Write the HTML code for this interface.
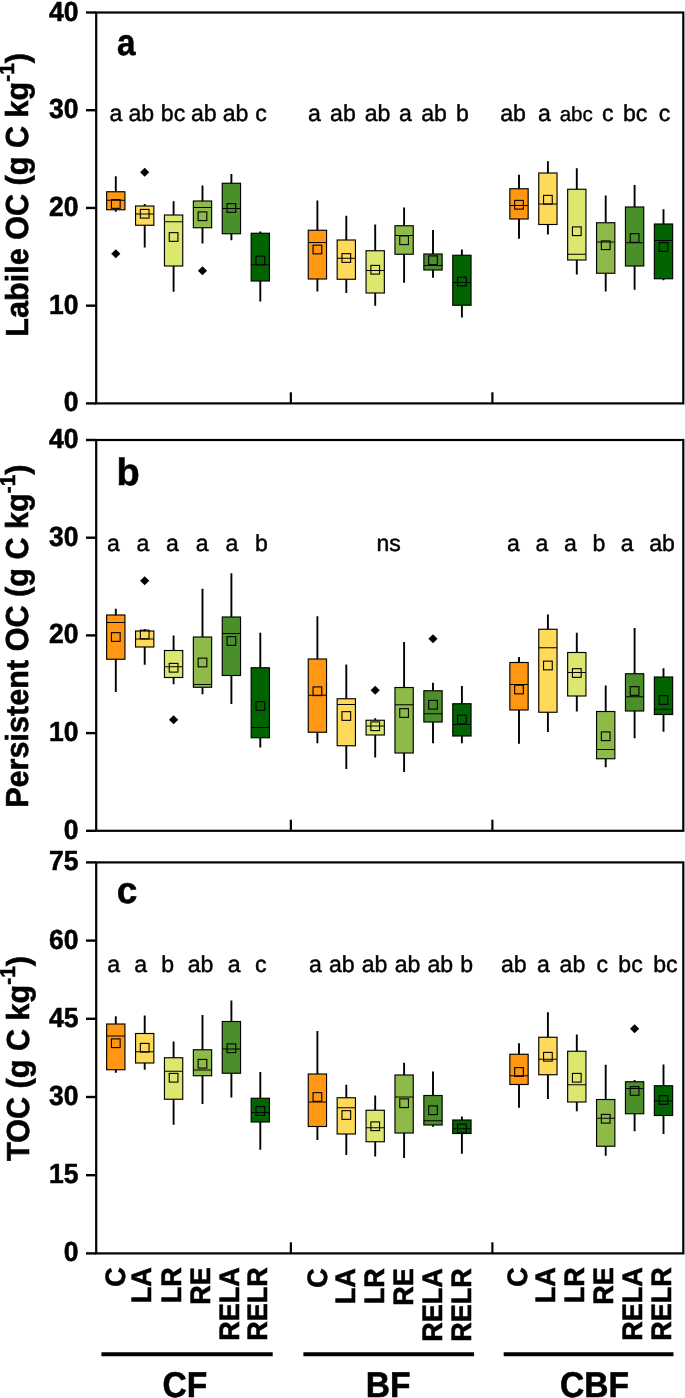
<!DOCTYPE html>
<html><head><meta charset="utf-8"><title>Box plots</title>
<style>
html,body{margin:0;padding:0;background:#fff}
svg{display:block}
text{font-family:"Liberation Sans",sans-serif;fill:#000}
.tk{font-size:26.5px;font-weight:bold}
.pl{font-weight:bold}
.sg{font-size:23.1px;stroke:#000;stroke-width:0.45px}
.sg2{font-size:20.5px;stroke:#000;stroke-width:0.4px}
svg text{text-rendering:geometricPrecision}
.yt{font-size:30.6px;font-weight:bold}
.xl{font-size:27px;font-weight:bold}
.gl{font-size:33.6px;font-weight:bold}
.tk,.yt,.xl,.gl,.pl{stroke:#000;stroke-width:0.55px}
</style></head><body>
<svg width="685" height="1398" viewBox="0 0 685 1398">
<rect width="685" height="1398" fill="#fff"/>
<g style="opacity:0.999">
<g stroke="#000" fill="none">
<path d="M115.80 176.25V191.75M115.80 209.75V211.75" stroke-width="1.9"/>
<rect x="106.65" y="191.75" width="18.3" height="18.00" fill="#FF9712" stroke-width="1.15"/>
<path d="M106.65 200.25H124.95" stroke-width="1"/>
<rect x="111.45" y="199.65" width="8.7" height="8.7" stroke-width="1.1"/>
<path d="M115.80 249.25L120.40 253.75L115.80 258.25L111.20 253.75Z" fill="#000" stroke="none"/>
<path d="M144.70 204.00V206.00M144.70 225.25V247.50" stroke-width="1.9"/>
<rect x="135.55" y="206.00" width="18.3" height="19.25" fill="#FFDA5A" stroke-width="1.15"/>
<path d="M135.55 214.00H153.85" stroke-width="1"/>
<rect x="140.35" y="209.40" width="8.7" height="8.7" stroke-width="1.1"/>
<path d="M144.70 167.75L149.30 172.25L144.70 176.75L140.10 172.25Z" fill="#000" stroke="none"/>
<path d="M173.60 201.25V215.00M173.60 266.00V291.75" stroke-width="1.9"/>
<rect x="164.45" y="215.00" width="18.3" height="51.00" fill="#DCE770" stroke-width="1.15"/>
<path d="M164.45 221.75H182.75" stroke-width="1"/>
<rect x="169.25" y="232.65" width="8.7" height="8.7" stroke-width="1.1"/>
<path d="M202.50 185.50V201.00M202.50 227.75V243.50" stroke-width="1.9"/>
<rect x="193.35" y="201.00" width="18.3" height="26.75" fill="#8DBA49" stroke-width="1.15"/>
<path d="M193.35 207.50H211.65" stroke-width="1"/>
<rect x="198.15" y="211.90" width="8.7" height="8.7" stroke-width="1.1"/>
<path d="M202.50 266.25L207.10 270.75L202.50 275.25L197.90 270.75Z" fill="#000" stroke="none"/>
<path d="M231.40 174.00V183.25M231.40 233.75V240.25" stroke-width="1.9"/>
<rect x="222.25" y="183.25" width="18.3" height="50.50" fill="#4A8F29" stroke-width="1.15"/>
<path d="M222.25 208.50H240.55" stroke-width="1"/>
<rect x="227.05" y="203.65" width="8.7" height="8.7" stroke-width="1.1"/>
<path d="M260.30 231.50V233.25M260.30 281.00V301.50" stroke-width="1.9"/>
<rect x="251.15" y="233.25" width="18.3" height="47.75" fill="#006400" stroke-width="1.15"/>
<path d="M251.15 264.75H269.45" stroke-width="1"/>
<rect x="255.95" y="256.15" width="8.7" height="8.7" stroke-width="1.1"/>
<path d="M317.40 200.50V230.25M317.40 279.00V291.50" stroke-width="1.9"/>
<rect x="308.25" y="230.25" width="18.3" height="48.75" fill="#FF9712" stroke-width="1.15"/>
<path d="M308.25 242.50H326.55" stroke-width="1"/>
<rect x="313.05" y="245.15" width="8.7" height="8.7" stroke-width="1.1"/>
<path d="M346.30 215.75V240.00M346.30 279.25V293.00" stroke-width="1.9"/>
<rect x="337.15" y="240.00" width="18.3" height="39.25" fill="#FFDA5A" stroke-width="1.15"/>
<path d="M337.15 258.25H355.45" stroke-width="1"/>
<rect x="341.95" y="253.65" width="8.7" height="8.7" stroke-width="1.1"/>
<path d="M375.20 224.50V250.75M375.20 293.00V305.75" stroke-width="1.9"/>
<rect x="366.05" y="250.75" width="18.3" height="42.25" fill="#DCE770" stroke-width="1.15"/>
<path d="M366.05 270.50H384.35" stroke-width="1"/>
<rect x="370.85" y="265.40" width="8.7" height="8.7" stroke-width="1.1"/>
<path d="M404.10 207.50V225.75M404.10 254.25V282.75" stroke-width="1.9"/>
<rect x="394.95" y="225.75" width="18.3" height="28.50" fill="#8DBA49" stroke-width="1.15"/>
<path d="M394.95 235.50H413.25" stroke-width="1"/>
<rect x="399.75" y="235.90" width="8.7" height="8.7" stroke-width="1.1"/>
<path d="M433.00 230.00V254.00M433.00 270.00V277.75" stroke-width="1.9"/>
<rect x="423.85" y="254.00" width="18.3" height="16.00" fill="#4A8F29" stroke-width="1.15"/>
<path d="M423.85 265.50H442.15" stroke-width="1"/>
<rect x="428.65" y="255.90" width="8.7" height="8.7" stroke-width="1.1"/>
<path d="M461.90 249.50V255.25M461.90 305.25V317.50" stroke-width="1.9"/>
<rect x="452.75" y="255.25" width="18.3" height="50.00" fill="#006400" stroke-width="1.15"/>
<path d="M452.75 282.50H471.05" stroke-width="1"/>
<rect x="457.55" y="277.15" width="8.7" height="8.7" stroke-width="1.1"/>
<path d="M519.00 174.75V188.75M519.00 219.00V238.75" stroke-width="1.9"/>
<rect x="509.85" y="188.75" width="18.3" height="30.25" fill="#FF9712" stroke-width="1.15"/>
<path d="M509.85 205.50H528.15" stroke-width="1"/>
<rect x="514.65" y="200.40" width="8.7" height="8.7" stroke-width="1.1"/>
<path d="M547.90 161.25V173.00M547.90 224.50V234.50" stroke-width="1.9"/>
<rect x="538.75" y="173.00" width="18.3" height="51.50" fill="#FFDA5A" stroke-width="1.15"/>
<path d="M538.75 204.00H557.05" stroke-width="1"/>
<rect x="543.55" y="195.40" width="8.7" height="8.7" stroke-width="1.1"/>
<path d="M576.80 168.25V189.25M576.80 260.00V274.50" stroke-width="1.9"/>
<rect x="567.65" y="189.25" width="18.3" height="70.75" fill="#DCE770" stroke-width="1.15"/>
<path d="M567.65 254.25H585.95" stroke-width="1"/>
<rect x="572.45" y="226.90" width="8.7" height="8.7" stroke-width="1.1"/>
<path d="M605.70 195.50V222.75M605.70 273.25V291.50" stroke-width="1.9"/>
<rect x="596.55" y="222.75" width="18.3" height="50.50" fill="#8DBA49" stroke-width="1.15"/>
<path d="M596.55 242.00H614.85" stroke-width="1"/>
<rect x="601.35" y="240.90" width="8.7" height="8.7" stroke-width="1.1"/>
<path d="M634.60 185.00V207.00M634.60 266.00V289.75" stroke-width="1.9"/>
<rect x="625.45" y="207.00" width="18.3" height="59.00" fill="#4A8F29" stroke-width="1.15"/>
<path d="M625.45 242.75H643.75" stroke-width="1"/>
<rect x="630.25" y="233.65" width="8.7" height="8.7" stroke-width="1.1"/>
<path d="M663.50 209.25V224.00M663.50 278.75V280.25" stroke-width="1.9"/>
<rect x="654.35" y="224.00" width="18.3" height="54.75" fill="#006400" stroke-width="1.15"/>
<path d="M654.35 240.50H672.65" stroke-width="1"/>
<rect x="659.15" y="242.65" width="8.7" height="8.7" stroke-width="1.1"/>
</g>
<g stroke="#000" fill="none">
<path d="M115.80 608.75V615.00M115.80 659.25V692.00" stroke-width="1.9"/>
<rect x="106.65" y="615.00" width="18.3" height="44.25" fill="#FF9712" stroke-width="1.15"/>
<path d="M106.65 622.50H124.95" stroke-width="1"/>
<rect x="111.45" y="632.65" width="8.7" height="8.7" stroke-width="1.1"/>
<path d="M144.70 629.25V631.00M144.70 647.00V664.75" stroke-width="1.9"/>
<rect x="135.55" y="631.00" width="18.3" height="16.00" fill="#FFDA5A" stroke-width="1.15"/>
<path d="M135.55 639.00H153.85" stroke-width="1"/>
<rect x="140.35" y="630.15" width="8.7" height="8.7" stroke-width="1.1"/>
<path d="M144.70 576.25L149.30 580.75L144.70 585.25L140.10 580.75Z" fill="#000" stroke="none"/>
<path d="M173.60 635.50V650.50M173.60 677.50V684.25" stroke-width="1.9"/>
<rect x="164.45" y="650.50" width="18.3" height="27.00" fill="#DCE770" stroke-width="1.15"/>
<path d="M164.45 666.75H182.75" stroke-width="1"/>
<rect x="169.25" y="663.40" width="8.7" height="8.7" stroke-width="1.1"/>
<path d="M173.60 715.25L178.20 719.75L173.60 724.25L169.00 719.75Z" fill="#000" stroke="none"/>
<path d="M202.50 588.75V637.00M202.50 687.25V694.25" stroke-width="1.9"/>
<rect x="193.35" y="637.00" width="18.3" height="50.25" fill="#8DBA49" stroke-width="1.15"/>
<path d="M193.35 684.50H211.65" stroke-width="1"/>
<rect x="198.15" y="658.15" width="8.7" height="8.7" stroke-width="1.1"/>
<path d="M231.40 573.25V617.00M231.40 675.50V704.00" stroke-width="1.9"/>
<rect x="222.25" y="617.00" width="18.3" height="58.50" fill="#4A8F29" stroke-width="1.15"/>
<path d="M222.25 633.50H240.55" stroke-width="1"/>
<rect x="227.05" y="636.65" width="8.7" height="8.7" stroke-width="1.1"/>
<path d="M260.30 632.75V667.75M260.30 737.75V747.50" stroke-width="1.9"/>
<rect x="251.15" y="667.75" width="18.3" height="70.00" fill="#006400" stroke-width="1.15"/>
<path d="M251.15 727.50H269.45" stroke-width="1"/>
<rect x="255.95" y="701.65" width="8.7" height="8.7" stroke-width="1.1"/>
<path d="M317.40 616.25V659.00M317.40 732.25V743.25" stroke-width="1.9"/>
<rect x="308.25" y="659.00" width="18.3" height="73.25" fill="#FF9712" stroke-width="1.15"/>
<path d="M308.25 695.25H326.55" stroke-width="1"/>
<rect x="313.05" y="686.90" width="8.7" height="8.7" stroke-width="1.1"/>
<path d="M346.30 664.50V698.75M346.30 745.75V769.00" stroke-width="1.9"/>
<rect x="337.15" y="698.75" width="18.3" height="47.00" fill="#FFDA5A" stroke-width="1.15"/>
<path d="M337.15 704.50H355.45" stroke-width="1"/>
<rect x="341.95" y="711.65" width="8.7" height="8.7" stroke-width="1.1"/>
<path d="M375.20 718.25V720.25M375.20 735.00V757.50" stroke-width="1.9"/>
<rect x="366.05" y="720.25" width="18.3" height="14.75" fill="#DCE770" stroke-width="1.15"/>
<path d="M366.05 726.00H384.35" stroke-width="1"/>
<rect x="370.85" y="721.90" width="8.7" height="8.7" stroke-width="1.1"/>
<path d="M375.20 685.75L379.80 690.25L375.20 694.75L370.60 690.25Z" fill="#000" stroke="none"/>
<path d="M404.10 642.00V687.50M404.10 753.00V772.00" stroke-width="1.9"/>
<rect x="394.95" y="687.50" width="18.3" height="65.50" fill="#8DBA49" stroke-width="1.15"/>
<path d="M394.95 704.75H413.25" stroke-width="1"/>
<rect x="399.75" y="708.65" width="8.7" height="8.7" stroke-width="1.1"/>
<path d="M433.00 682.75V690.75M433.00 722.00V743.25" stroke-width="1.9"/>
<rect x="423.85" y="690.75" width="18.3" height="31.25" fill="#4A8F29" stroke-width="1.15"/>
<path d="M423.85 713.75H442.15" stroke-width="1"/>
<rect x="428.65" y="700.40" width="8.7" height="8.7" stroke-width="1.1"/>
<path d="M433.00 634.25L437.60 638.75L433.00 643.25L428.40 638.75Z" fill="#000" stroke="none"/>
<path d="M461.90 686.00V703.75M461.90 736.00V743.25" stroke-width="1.9"/>
<rect x="452.75" y="703.75" width="18.3" height="32.25" fill="#006400" stroke-width="1.15"/>
<path d="M452.75 724.50H471.05" stroke-width="1"/>
<rect x="457.55" y="715.15" width="8.7" height="8.7" stroke-width="1.1"/>
<path d="M519.00 657.00V662.50M519.00 710.00V743.75" stroke-width="1.9"/>
<rect x="509.85" y="662.50" width="18.3" height="47.50" fill="#FF9712" stroke-width="1.15"/>
<path d="M509.85 684.50H528.15" stroke-width="1"/>
<rect x="514.65" y="685.15" width="8.7" height="8.7" stroke-width="1.1"/>
<path d="M547.90 614.50V629.25M547.90 712.25V732.00" stroke-width="1.9"/>
<rect x="538.75" y="629.25" width="18.3" height="83.00" fill="#FFDA5A" stroke-width="1.15"/>
<path d="M538.75 647.75H557.05" stroke-width="1"/>
<rect x="543.55" y="661.15" width="8.7" height="8.7" stroke-width="1.1"/>
<path d="M576.80 632.75V652.50M576.80 696.00V711.50" stroke-width="1.9"/>
<rect x="567.65" y="652.50" width="18.3" height="43.50" fill="#DCE770" stroke-width="1.15"/>
<path d="M567.65 672.50H585.95" stroke-width="1"/>
<rect x="572.45" y="668.65" width="8.7" height="8.7" stroke-width="1.1"/>
<path d="M605.70 685.50V711.50M605.70 758.75V767.25" stroke-width="1.9"/>
<rect x="596.55" y="711.50" width="18.3" height="47.25" fill="#8DBA49" stroke-width="1.15"/>
<path d="M596.55 749.50H614.85" stroke-width="1"/>
<rect x="601.35" y="731.90" width="8.7" height="8.7" stroke-width="1.1"/>
<path d="M634.60 628.00V673.75M634.60 711.00V738.25" stroke-width="1.9"/>
<rect x="625.45" y="673.75" width="18.3" height="37.25" fill="#4A8F29" stroke-width="1.15"/>
<path d="M625.45 696.75H643.75" stroke-width="1"/>
<rect x="630.25" y="686.65" width="8.7" height="8.7" stroke-width="1.1"/>
<path d="M663.50 668.25V677.00M663.50 714.50V731.75" stroke-width="1.9"/>
<rect x="654.35" y="677.00" width="18.3" height="37.50" fill="#006400" stroke-width="1.15"/>
<path d="M654.35 709.25H672.65" stroke-width="1"/>
<rect x="659.15" y="695.65" width="8.7" height="8.7" stroke-width="1.1"/>
</g>
<g stroke="#000" fill="none">
<path d="M115.80 1016.25V1024.00M115.80 1069.75V1072.75" stroke-width="1.9"/>
<rect x="106.65" y="1024.00" width="18.3" height="45.75" fill="#FF9712" stroke-width="1.15"/>
<path d="M106.65 1036.00H124.95" stroke-width="1"/>
<rect x="111.45" y="1038.90" width="8.7" height="8.7" stroke-width="1.1"/>
<path d="M144.70 1015.50V1033.50M144.70 1063.00V1069.75" stroke-width="1.9"/>
<rect x="135.55" y="1033.50" width="18.3" height="29.50" fill="#FFDA5A" stroke-width="1.15"/>
<path d="M135.55 1051.75H153.85" stroke-width="1"/>
<rect x="140.35" y="1043.40" width="8.7" height="8.7" stroke-width="1.1"/>
<path d="M173.60 1041.50V1057.75M173.60 1099.25V1124.75" stroke-width="1.9"/>
<rect x="164.45" y="1057.75" width="18.3" height="41.50" fill="#DCE770" stroke-width="1.15"/>
<path d="M164.45 1071.25H182.75" stroke-width="1"/>
<rect x="169.25" y="1073.40" width="8.7" height="8.7" stroke-width="1.1"/>
<path d="M202.50 1015.00V1049.75M202.50 1075.75V1104.00" stroke-width="1.9"/>
<rect x="193.35" y="1049.75" width="18.3" height="26.00" fill="#8DBA49" stroke-width="1.15"/>
<path d="M193.35 1070.00H211.65" stroke-width="1"/>
<rect x="198.15" y="1059.40" width="8.7" height="8.7" stroke-width="1.1"/>
<path d="M231.40 1000.50V1021.50M231.40 1073.25V1097.50" stroke-width="1.9"/>
<rect x="222.25" y="1021.50" width="18.3" height="51.75" fill="#4A8F29" stroke-width="1.15"/>
<path d="M222.25 1049.00H240.55" stroke-width="1"/>
<rect x="227.05" y="1043.90" width="8.7" height="8.7" stroke-width="1.1"/>
<path d="M260.30 1072.00V1098.25M260.30 1122.00V1149.75" stroke-width="1.9"/>
<rect x="251.15" y="1098.25" width="18.3" height="23.75" fill="#006400" stroke-width="1.15"/>
<path d="M251.15 1112.50H269.45" stroke-width="1"/>
<rect x="255.95" y="1106.65" width="8.7" height="8.7" stroke-width="1.1"/>
<path d="M317.40 1031.00V1074.00M317.40 1126.50V1140.00" stroke-width="1.9"/>
<rect x="308.25" y="1074.00" width="18.3" height="52.50" fill="#FF9712" stroke-width="1.15"/>
<path d="M308.25 1102.00H326.55" stroke-width="1"/>
<rect x="313.05" y="1092.65" width="8.7" height="8.7" stroke-width="1.1"/>
<path d="M346.30 1084.75V1097.75M346.30 1134.00V1155.00" stroke-width="1.9"/>
<rect x="337.15" y="1097.75" width="18.3" height="36.25" fill="#FFDA5A" stroke-width="1.15"/>
<path d="M337.15 1107.75H355.45" stroke-width="1"/>
<rect x="341.95" y="1110.65" width="8.7" height="8.7" stroke-width="1.1"/>
<path d="M375.20 1095.50V1110.25M375.20 1141.75V1156.50" stroke-width="1.9"/>
<rect x="366.05" y="1110.25" width="18.3" height="31.50" fill="#DCE770" stroke-width="1.15"/>
<path d="M366.05 1127.75H384.35" stroke-width="1"/>
<rect x="370.85" y="1121.90" width="8.7" height="8.7" stroke-width="1.1"/>
<path d="M404.10 1062.75V1075.00M404.10 1133.00V1158.00" stroke-width="1.9"/>
<rect x="394.95" y="1075.00" width="18.3" height="58.00" fill="#8DBA49" stroke-width="1.15"/>
<path d="M394.95 1097.00H413.25" stroke-width="1"/>
<rect x="399.75" y="1098.90" width="8.7" height="8.7" stroke-width="1.1"/>
<path d="M433.00 1071.50V1095.50M433.00 1125.00V1126.75" stroke-width="1.9"/>
<rect x="423.85" y="1095.50" width="18.3" height="29.50" fill="#4A8F29" stroke-width="1.15"/>
<path d="M423.85 1120.75H442.15" stroke-width="1"/>
<rect x="428.65" y="1105.90" width="8.7" height="8.7" stroke-width="1.1"/>
<path d="M461.90 1116.50V1120.00M461.90 1133.50V1153.75" stroke-width="1.9"/>
<rect x="452.75" y="1120.00" width="18.3" height="13.50" fill="#006400" stroke-width="1.15"/>
<path d="M452.75 1128.75H471.05" stroke-width="1"/>
<rect x="457.55" y="1124.15" width="8.7" height="8.7" stroke-width="1.1"/>
<path d="M519.00 1043.25V1054.25M519.00 1084.50V1107.75" stroke-width="1.9"/>
<rect x="509.85" y="1054.25" width="18.3" height="30.25" fill="#FF9712" stroke-width="1.15"/>
<path d="M509.85 1075.75H528.15" stroke-width="1"/>
<rect x="514.65" y="1067.65" width="8.7" height="8.7" stroke-width="1.1"/>
<path d="M547.90 1012.25V1037.25M547.90 1074.75V1099.00" stroke-width="1.9"/>
<rect x="538.75" y="1037.25" width="18.3" height="37.50" fill="#FFDA5A" stroke-width="1.15"/>
<path d="M538.75 1059.25H557.05" stroke-width="1"/>
<rect x="543.55" y="1052.40" width="8.7" height="8.7" stroke-width="1.1"/>
<path d="M576.80 1034.50V1051.25M576.80 1102.00V1111.25" stroke-width="1.9"/>
<rect x="567.65" y="1051.25" width="18.3" height="50.75" fill="#DCE770" stroke-width="1.15"/>
<path d="M567.65 1084.75H585.95" stroke-width="1"/>
<rect x="572.45" y="1073.40" width="8.7" height="8.7" stroke-width="1.1"/>
<path d="M605.70 1064.75V1099.50M605.70 1146.25V1155.75" stroke-width="1.9"/>
<rect x="596.55" y="1099.50" width="18.3" height="46.75" fill="#8DBA49" stroke-width="1.15"/>
<path d="M596.55 1118.25H614.85" stroke-width="1"/>
<rect x="601.35" y="1114.40" width="8.7" height="8.7" stroke-width="1.1"/>
<path d="M634.60 1080.00V1081.75M634.60 1113.75V1131.25" stroke-width="1.9"/>
<rect x="625.45" y="1081.75" width="18.3" height="32.00" fill="#4A8F29" stroke-width="1.15"/>
<path d="M625.45 1088.50H643.75" stroke-width="1"/>
<rect x="630.25" y="1086.65" width="8.7" height="8.7" stroke-width="1.1"/>
<path d="M634.60 1024.25L639.20 1028.75L634.60 1033.25L630.00 1028.75Z" fill="#000" stroke="none"/>
<path d="M663.50 1064.50V1085.75M663.50 1115.50V1134.00" stroke-width="1.9"/>
<rect x="654.35" y="1085.75" width="18.3" height="29.75" fill="#006400" stroke-width="1.15"/>
<path d="M654.35 1101.00H672.65" stroke-width="1"/>
<rect x="659.15" y="1095.65" width="8.7" height="8.7" stroke-width="1.1"/>
</g>
<rect x="96.2" y="12.5" width="587.10" height="390.90" fill="none" stroke="#000" stroke-width="2.2"/>
<path d="M86 12.50H96.2" stroke="#000" stroke-width="2.4"/>
<text transform="translate(78.6 20.50) scale(1 1.045)" text-anchor="end" class="tk">40</text>
<path d="M86 110.22H96.2" stroke="#000" stroke-width="2.4"/>
<text transform="translate(78.6 118.22) scale(1 1.045)" text-anchor="end" class="tk">30</text>
<path d="M86 207.95H96.2" stroke="#000" stroke-width="2.4"/>
<text transform="translate(78.6 215.95) scale(1 1.045)" text-anchor="end" class="tk">20</text>
<path d="M86 305.67H96.2" stroke="#000" stroke-width="2.4"/>
<text transform="translate(78.6 313.67) scale(1 1.045)" text-anchor="end" class="tk">10</text>
<path d="M86 403.40H96.2" stroke="#000" stroke-width="2.4"/>
<text transform="translate(78.6 411.40) scale(1 1.045)" text-anchor="end" class="tk">0</text>
<path d="M290.85 403.4V392.30" stroke="#000" stroke-width="2.2"/>
<path d="M492.4 403.4V392.30" stroke="#000" stroke-width="2.2"/>
<rect x="96.2" y="440.0" width="587.10" height="390.80" fill="none" stroke="#000" stroke-width="2.2"/>
<path d="M86 440.00H96.2" stroke="#000" stroke-width="2.4"/>
<text transform="translate(78.6 448.00) scale(1 1.045)" text-anchor="end" class="tk">40</text>
<path d="M86 537.70H96.2" stroke="#000" stroke-width="2.4"/>
<text transform="translate(78.6 545.70) scale(1 1.045)" text-anchor="end" class="tk">30</text>
<path d="M86 635.40H96.2" stroke="#000" stroke-width="2.4"/>
<text transform="translate(78.6 643.40) scale(1 1.045)" text-anchor="end" class="tk">20</text>
<path d="M86 733.10H96.2" stroke="#000" stroke-width="2.4"/>
<text transform="translate(78.6 741.10) scale(1 1.045)" text-anchor="end" class="tk">10</text>
<path d="M86 830.80H96.2" stroke="#000" stroke-width="2.4"/>
<text transform="translate(78.6 838.80) scale(1 1.045)" text-anchor="end" class="tk">0</text>
<path d="M290.85 830.8V819.70" stroke="#000" stroke-width="2.2"/>
<path d="M492.4 830.8V819.70" stroke="#000" stroke-width="2.2"/>
<rect x="96.2" y="862.4" width="587.10" height="391.00" fill="none" stroke="#000" stroke-width="2.2"/>
<path d="M86 862.40H96.2" stroke="#000" stroke-width="2.4"/>
<text transform="translate(78.6 870.40) scale(1 1.045)" text-anchor="end" class="tk">75</text>
<path d="M86 940.60H96.2" stroke="#000" stroke-width="2.4"/>
<text transform="translate(78.6 948.60) scale(1 1.045)" text-anchor="end" class="tk">60</text>
<path d="M86 1018.80H96.2" stroke="#000" stroke-width="2.4"/>
<text transform="translate(78.6 1026.80) scale(1 1.045)" text-anchor="end" class="tk">45</text>
<path d="M86 1097.00H96.2" stroke="#000" stroke-width="2.4"/>
<text transform="translate(78.6 1105.00) scale(1 1.045)" text-anchor="end" class="tk">30</text>
<path d="M86 1175.20H96.2" stroke="#000" stroke-width="2.4"/>
<text transform="translate(78.6 1183.20) scale(1 1.045)" text-anchor="end" class="tk">15</text>
<path d="M86 1253.40H96.2" stroke="#000" stroke-width="2.4"/>
<text transform="translate(78.6 1261.40) scale(1 1.045)" text-anchor="end" class="tk">0</text>
<path d="M290.85 1253.4V1242.30" stroke="#000" stroke-width="2.2"/>
<path d="M492.4 1253.4V1242.30" stroke="#000" stroke-width="2.2"/>
<text transform="translate(117.1 55.3) scale(0.9 1)" class="pl" font-size="37">a</text>
<text x="116.6" y="485.4" class="pl" font-size="38">b</text>
<text x="116.8" y="902.9" class="pl" font-size="37">c</text>
<text x="116.0" y="120.5" text-anchor="middle" class="sg">a</text>
<text x="141.3" y="120.5" text-anchor="middle" class="sg">ab</text>
<text x="173" y="120.5" text-anchor="middle" class="sg">bc</text>
<text x="203.8" y="120.5" text-anchor="middle" class="sg">ab</text>
<text x="235.5" y="120.5" text-anchor="middle" class="sg">ab</text>
<text x="261" y="120.5" text-anchor="middle" class="sg">c</text>
<text x="314.4" y="120.5" text-anchor="middle" class="sg">a</text>
<text x="342.9" y="120.5" text-anchor="middle" class="sg">ab</text>
<text x="377.5" y="120.5" text-anchor="middle" class="sg">ab</text>
<text x="405.5" y="120.5" text-anchor="middle" class="sg">a</text>
<text x="434.1" y="120.5" text-anchor="middle" class="sg">ab</text>
<text x="462.4" y="120.5" text-anchor="middle" class="sg">b</text>
<text x="513.1" y="120.5" text-anchor="middle" class="sg">ab</text>
<text x="544.5" y="120.5" text-anchor="middle" class="sg">a</text>
<text x="576.2" y="120.5" text-anchor="middle" class="sg2">abc</text>
<text x="607.8" y="120.5" text-anchor="middle" class="sg">c</text>
<text x="635.2" y="120.5" text-anchor="middle" class="sg">bc</text>
<text x="664.5" y="120.5" text-anchor="middle" class="sg">c</text>
<text x="113.3" y="551.3" text-anchor="middle" class="sg">a</text>
<text x="142.9" y="551.3" text-anchor="middle" class="sg">a</text>
<text x="172.5" y="551.3" text-anchor="middle" class="sg">a</text>
<text x="202.2" y="551.3" text-anchor="middle" class="sg">a</text>
<text x="231.8" y="551.3" text-anchor="middle" class="sg">a</text>
<text x="261.5" y="551.3" text-anchor="middle" class="sg">b</text>
<text x="388.7" y="551.3" text-anchor="middle" class="sg">ns</text>
<text x="513.5" y="551.3" text-anchor="middle" class="sg">a</text>
<text x="541.9" y="551.3" text-anchor="middle" class="sg">a</text>
<text x="570.4" y="551.3" text-anchor="middle" class="sg">a</text>
<text x="598.9" y="551.3" text-anchor="middle" class="sg">b</text>
<text x="627.1" y="551.3" text-anchor="middle" class="sg">a</text>
<text x="662" y="551.3" text-anchor="middle" class="sg">ab</text>
<text x="113.7" y="971.6" text-anchor="middle" class="sg">a</text>
<text x="140.7" y="971.6" text-anchor="middle" class="sg">a</text>
<text x="167.7" y="971.6" text-anchor="middle" class="sg">b</text>
<text x="200.5" y="971.6" text-anchor="middle" class="sg">ab</text>
<text x="234.1" y="971.6" text-anchor="middle" class="sg">a</text>
<text x="260.8" y="971.6" text-anchor="middle" class="sg">c</text>
<text x="315.5" y="971.6" text-anchor="middle" class="sg">a</text>
<text x="341.8" y="971.6" text-anchor="middle" class="sg">ab</text>
<text x="374.6" y="971.6" text-anchor="middle" class="sg">ab</text>
<text x="407.6" y="971.6" text-anchor="middle" class="sg">ab</text>
<text x="440.3" y="971.6" text-anchor="middle" class="sg">ab</text>
<text x="466.7" y="971.6" text-anchor="middle" class="sg">b</text>
<text x="513.8" y="971.6" text-anchor="middle" class="sg">ab</text>
<text x="543.3" y="971.6" text-anchor="middle" class="sg">a</text>
<text x="572.4" y="971.6" text-anchor="middle" class="sg">ab</text>
<text x="602.3" y="971.6" text-anchor="middle" class="sg">c</text>
<text x="630.5" y="971.6" text-anchor="middle" class="sg">bc</text>
<text x="665.4" y="971.6" text-anchor="middle" class="sg">bc</text>
<text transform="translate(28.3 336.7) rotate(-90) scale(1 1.04)" class="yt">Labile OC (g C kg<tspan dy="-13.3" font-size="20.8">-1</tspan><tspan dy="13.3">)</tspan></text>
<text transform="translate(28.4 807.8) rotate(-90) scale(1 1.04)" class="yt">Persistent OC (g C kg<tspan dy="-13.3" font-size="20.8">-1</tspan><tspan dy="13.3">)</tspan></text>
<text transform="translate(28.5 1161.0) rotate(-90) scale(1 1.04)" class="yt">TOC (g C kg<tspan dy="-13.3" font-size="20.8">-1</tspan><tspan dy="13.3">)</tspan></text>
<text transform="translate(124.60 1267.30) rotate(-90) scale(1 1.04)" text-anchor="end" class="xl">C</text>
<text transform="translate(151.20 1267.30) rotate(-90) scale(1 1.04)" text-anchor="end" class="xl">LA</text>
<text transform="translate(181.40 1267.30) rotate(-90) scale(1 1.04)" text-anchor="end" class="xl">LR</text>
<text transform="translate(210.30 1267.30) rotate(-90) scale(1 1.04)" text-anchor="end" class="xl">RE</text>
<text transform="translate(239.20 1267.30) rotate(-90) scale(1 1.04)" text-anchor="end" class="xl">RELA</text>
<text transform="translate(267.10 1267.30) rotate(-90) scale(1 1.04)" text-anchor="end" class="xl">RELR</text>
<text transform="translate(326.60 1268.30) rotate(-90) scale(1 1.04)" text-anchor="end" class="xl">C</text>
<text transform="translate(355.10 1268.30) rotate(-90) scale(1 1.04)" text-anchor="end" class="xl">LA</text>
<text transform="translate(384.00 1268.30) rotate(-90) scale(1 1.04)" text-anchor="end" class="xl">LR</text>
<text transform="translate(412.90 1268.30) rotate(-90) scale(1 1.04)" text-anchor="end" class="xl">RE</text>
<text transform="translate(442.10 1268.30) rotate(-90) scale(1 1.04)" text-anchor="end" class="xl">RELA</text>
<text transform="translate(470.70 1268.30) rotate(-90) scale(1 1.04)" text-anchor="end" class="xl">RELR</text>
<text transform="translate(526.80 1267.30) rotate(-90) scale(1 1.04)" text-anchor="end" class="xl">C</text>
<text transform="translate(554.50 1267.30) rotate(-90) scale(1 1.04)" text-anchor="end" class="xl">LA</text>
<text transform="translate(584.10 1267.30) rotate(-90) scale(1 1.04)" text-anchor="end" class="xl">LR</text>
<text transform="translate(612.90 1267.30) rotate(-90) scale(1 1.04)" text-anchor="end" class="xl">RE</text>
<text transform="translate(642.40 1267.30) rotate(-90) scale(1 1.04)" text-anchor="end" class="xl">RELA</text>
<text transform="translate(671.00 1267.30) rotate(-90) scale(1 1.04)" text-anchor="end" class="xl">RELR</text>
<path d="M101.39999999999999 1354.3H272.7" stroke="#000" stroke-width="4"/>
<text transform="translate(184.9 1397.0) scale(1 1.065)" text-anchor="middle" class="gl">CF</text>
<path d="M303.40000000000003 1354.3H474.09999999999997" stroke="#000" stroke-width="4"/>
<text transform="translate(388.2 1397.0) scale(1 1.065)" text-anchor="middle" class="gl">BF</text>
<path d="M503.7 1354.3H673.5" stroke="#000" stroke-width="4"/>
<text transform="translate(594.6 1397.0) scale(1 1.065)" text-anchor="middle" class="gl">CBF</text>
</g>
</svg>
</body></html>
